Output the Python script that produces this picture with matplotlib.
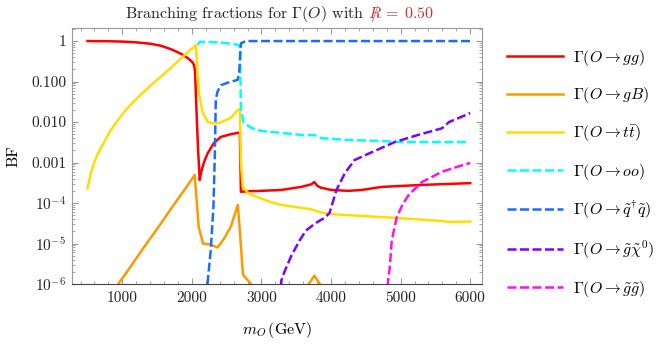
import matplotlib
matplotlib.use("Agg")
import matplotlib.pyplot as plt
from matplotlib.ticker import FixedLocator, NullFormatter, LogLocator

plt.rcParams['font.family'] = 'cmr10'
plt.rcParams['mathtext.fontset'] = 'cm'
plt.rcParams['axes.unicode_minus'] = False
plt.rcParams['font.size'] = 11

# --- data ---
m_gg = [500, 800, 1000, 1200, 1400, 1550, 1700, 1850, 1940, 2000, 2030, 2045, 2075, 2090,
        2113, 2135, 2156, 2190, 2228, 2315, 2416, 2560, 2660, 2690, 2705, 2800, 3000, 3283,
        3572, 3717, 3760, 3800, 3850, 4006, 4251, 4439, 4728, 5306, 6000]
bf_gg = [1.0, 0.99, 0.97, 0.93, 0.86, 0.77, 0.63, 0.48, 0.38, 0.31, 0.26, 0.18, 0.008, 0.002,
         3.7e-4, 6e-4, 8e-4, 1.2e-3, 1.7e-3, 3e-3, 4.3e-3, 5e-3, 5.4e-3, 5.5e-3, 1.9e-4,
         1.95e-4, 2.0e-4, 2.1e-4, 2.5e-4, 2.9e-4, 3.3e-4, 2.7e-4, 2.4e-4, 2.1e-4, 2.0e-4,
         2.1e-4, 2.5e-4, 2.8e-4, 3.1e-4]

m_gB = [500, 700, 942, 1100, 1300, 1500, 1700, 1900, 2040, 2098, 2160, 2250, 2370, 2460,
        2560, 2660, 2690, 2734, 2850, 3000, 3500, 3680, 3760, 3840, 4000, 6000]
bf_gB = [8e-8, 2.5e-7, 1e-6, 2.4e-6, 7.6e-6, 2.3e-5, 7.2e-5, 2.2e-4, 4.9e-4, 2.6e-5, 1e-5,
         9.5e-6, 8e-6, 1.3e-5, 2.6e-5, 9e-5, 2e-5, 1.7e-6, 1e-6, 5e-7, 4e-7, 1e-6, 1.6e-6,
         1e-6, 5e-7, 3e-7]

m_tt = [500, 550, 600, 653, 750, 827, 950, 1072, 1200, 1300, 1400, 1549, 1700, 1850, 1950,
        2026, 2055, 2075, 2098, 2156, 2228, 2300, 2387, 2480, 2560, 2660, 2690, 2705, 2730,
        2806, 2850, 3140, 3283, 3572, 3720, 3760, 3861, 4100, 4439, 5017, 5595, 5700, 6000]
bf_tt = [2.3e-4, 5.6e-4, 1.05e-3, 1.7e-3, 3.5e-3, 6.0e-3, 0.012, 0.022, 0.037, 0.054, 0.078,
         0.13, 0.22, 0.38, 0.55, 0.71, 0.8, 0.3, 0.055, 0.017, 0.01, 0.0093, 0.0095, 0.011,
         0.0126, 0.02, 0.021, 1e-3, 2.5e-4, 1.8e-4, 1.6e-4, 1.05e-4, 9e-5, 7.6e-5, 7e-5,
         6.6e-5, 5.8e-5, 5.2e-5, 4.8e-5, 4.2e-5, 3.6e-5, 3.4e-5, 3.5e-5]

m_oo = [2084, 2110, 2200, 2400, 2600, 2660, 2690, 2705, 2740, 2850, 3000, 3283, 3572, 3760,
        3861, 4251, 4728, 5017, 5956]
bf_oo = [0.8, 0.95, 0.95, 0.92, 0.85, 0.8, 0.75, 0.022, 0.01, 0.0072, 0.006, 0.0054, 0.0048,
         0.0048, 0.004, 0.0036, 0.0034, 0.0032, 0.0032]

m_sq = [2224, 2272, 2310, 2330, 2344, 2368, 2416, 2500, 2657, 2680, 2705, 2777, 6000]
bf_sq = [1e-6, 7e-6, 8e-5, 1.6e-3, 0.036, 0.056, 0.081, 0.092, 0.11, 0.17, 0.88, 1.0, 1.0]

m_gchi = [3278, 3285, 3330, 3430, 3550, 3640, 3780, 3904, 3977, 4078, 4200, 4338, 4483,
          4916, 5250, 5595, 5696, 5850, 6000]
bf_gchi = [1e-7, 1.2e-6, 2e-6, 5e-6, 1.2e-5, 2.1e-5, 3.2e-5, 4.3e-5, 5.6e-5, 2.1e-4, 5.5e-4,
           1.15e-3, 1.5e-3, 3.2e-3, 4.8e-3, 7e-3, 0.01, 0.0129, 0.0167]

m_gg2 = [4808, 4815, 4845, 4873, 4945, 5030, 5118, 5306, 5595, 5800, 6000]
bf_gg2 = [1e-7, 1e-6, 2.7e-6, 1.2e-5, 4.5e-5, 9.3e-5, 1.6e-4, 3.3e-4, 5.9e-4, 7.7e-4, 9.8e-4]

labels = [r'$\Gamma(O\rightarrow gg)$', r'$\Gamma(O\rightarrow gB)$',
          r'$\Gamma(O\rightarrow t\bar{t})$', r'$\Gamma(O\rightarrow oo)$',
          r'$\Gamma(O\rightarrow \tilde{q}^{\dagger}\tilde{q})$',
          r'$\Gamma(O\rightarrow \tilde{g}\tilde{\chi}^{0})$',
          r'$\Gamma(O\rightarrow \tilde{g}\tilde{g})$']
colors = ['#ff0000', '#ff9900', '#ffdd00', '#00ffff', '#1a6cff', '#7f00ff', '#ff11ee']

fig = plt.figure(figsize=(6.69, 3.45), dpi=100)
ax = fig.add_axes([0.1076, 0.1768, 0.6129, 0.742])

series = [(m_gg, bf_gg), (m_gB, bf_gB), (m_tt, bf_tt), (m_oo, bf_oo),
          (m_sq, bf_sq), (m_gchi, bf_gchi), (m_gg2, bf_gg2)]
lines = []
for i, (mx, by) in enumerate(series):
    ls = '-' if i < 3 else (0, (3.6, 1.4))
    ln, = ax.plot(mx, by, color=colors[i], lw=1.8, ls=ls, label=labels[i])
    lines.append(ln)

ax.set_yscale('log')
ax.set_xlim(277, 6170)
ax.set_ylim(1e-6, 2.1)

ax.set_xticks([1000, 2000, 3000, 4000, 5000, 6000])
ax.set_xticklabels(['1000', '2000', '3000', '4000', '5000', '6000'])
ax.xaxis.set_minor_locator(FixedLocator(range(400, 6200, 200)))
ax.set_yticks([1, 0.1, 0.01, 0.001, 1e-4, 1e-5, 1e-6])
ax.set_yticklabels(['1', '0.100', '0.010', '0.001', r'$10^{-4}$', r'$10^{-5}$', r'$10^{-6}$'])
ax.yaxis.set_minor_locator(LogLocator(base=10, subs=range(2, 10), numticks=20))
ax.yaxis.set_minor_formatter(NullFormatter())

ax.tick_params(which='both', direction='in', top=True, right=True, color='#999999',
               labelcolor='#222222')
ax.tick_params(which='major', length=4.5, width=0.8)
ax.tick_params(which='minor', length=2.5, width=0.6)
ax.tick_params(axis='x', pad=5)
ax.tick_params(axis='y', pad=4)
for s in ['left', 'top', 'right']:
    ax.spines[s].set_color('#999999')
ax.spines['bottom'].set_color('#444444')

ax.set_xlabel(r'$m_O\,$(GeV)', labelpad=11, fontsize=11.5)
ax.set_ylabel('BF', labelpad=8, fontsize=11.5)

ax.text(0.712, 1.039, r'Branching fractions for $\Gamma(O)$ with', transform=ax.transAxes,
        ha='right', va='baseline', color='#222222', fontsize=11.5)
ax.text(0.722, 1.039, r'$R\!\!\!\!/\;=\;0.50$', transform=ax.transAxes,
        ha='left', va='baseline', color='#c83232', fontsize=11.5)

fig.legend(handles=lines, loc='upper left', bbox_to_anchor=(0.758, 0.862), frameon=False,
           borderaxespad=0, borderpad=0, handlelength=3.5, handletextpad=0.65,
           labelspacing=1.12, fontsize=11.5)

fig.savefig('out.png', dpi=100)
